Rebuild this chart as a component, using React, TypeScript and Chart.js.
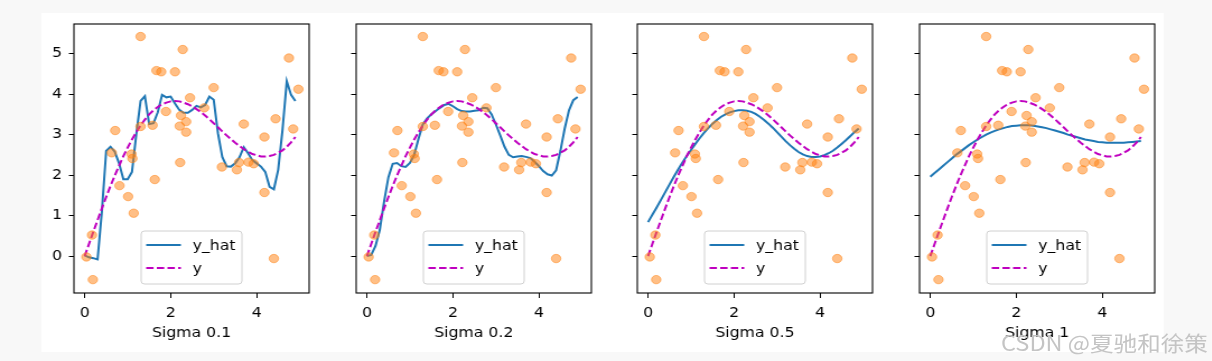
import React, { useEffect, useRef } from "react";
import { Chart, registerables } from "chart.js";

Chart.register(...registerables);

// ---------------- data ----------------
const xTest = [
  0, 0.1, 0.2, 0.3, 0.4, 0.5, 0.6, 0.7, 0.8, 0.9,
  1.0, 1.1, 1.2, 1.3, 1.4, 1.5, 1.6, 1.7, 1.8, 1.9,
  2.0, 2.1, 2.2, 2.3, 2.4, 2.5, 2.6, 2.7, 2.8, 2.9,
  3.0, 3.1, 3.2, 3.3, 3.4, 3.5, 3.6, 3.7, 3.8, 3.9,
  4.0, 4.1, 4.2, 4.3, 4.4, 4.5, 4.6, 4.7, 4.8, 4.9,
];

const yTruth = [
  0.0, 0.3, 0.6, 0.89, 1.18, 1.46, 1.73, 1.99, 2.23, 2.47,
  2.68, 2.88, 3.06, 3.23, 3.37, 3.5, 3.6, 3.68, 3.75, 3.79,
  3.82, 3.83, 3.82, 3.79, 3.75, 3.7, 3.63, 3.56, 3.47, 3.38,
  3.28, 3.18, 3.08, 2.98, 2.89, 2.8, 2.72, 2.64, 2.58, 2.52,
  2.49, 2.46, 2.46, 2.47, 2.5, 2.55, 2.61, 2.7, 2.81, 2.94,
];

const yHatSigma01 = [
  0.02, -0.03, -0.05, -0.08, 1.1, 2.6, 2.7, 2.58, 2.29, 1.9,
  1.9, 2.08, 3.0, 3.83, 3.95, 3.26, 3.28, 3.55, 3.98, 3.92,
  3.94, 3.77, 3.61, 3.54, 3.54, 3.61, 3.71, 3.67, 3.73, 3.94,
  3.86, 3.03, 2.45, 2.22, 2.21, 2.29, 2.44, 2.69, 2.54, 2.37,
  2.29, 2.21, 2.08, 1.71, 1.65, 2.13, 3.11, 4.32, 3.98, 3.83,
];

const yHatSigma02 = [
  0.0, 0.03, 0.25, 0.65, 1.35, 1.95, 2.28, 2.3, 2.22, 2.2,
  2.3, 2.5, 2.9, 3.25, 3.4, 3.5, 3.58, 3.66, 3.73, 3.76,
  3.7, 3.63, 3.58, 3.57, 3.57, 3.59, 3.6, 3.66, 3.65, 3.5,
  3.25, 2.98, 2.7, 2.5, 2.44, 2.46, 2.47, 2.45, 2.42, 2.33,
  2.22, 2.1, 2.02, 1.99, 2.12, 2.6, 3.15, 3.6, 3.85, 3.93,
];

const yHatSigma05 = [
  0.84, 1.02, 1.2, 1.39, 1.58, 1.77, 1.96, 2.14, 2.31, 2.47,
  2.62, 2.77, 2.91, 3.04, 3.16, 3.27, 3.36, 3.44, 3.5, 3.55,
  3.58, 3.6, 3.6, 3.59, 3.56, 3.51, 3.44, 3.36, 3.27, 3.17,
  3.06, 2.95, 2.84, 2.74, 2.65, 2.57, 2.51, 2.47, 2.45, 2.45,
  2.46, 2.49, 2.54, 2.6, 2.68, 2.77, 2.86, 2.96, 3.06, 3.15,
];

const yHatSigma1 = [
  1.96, 2.05, 2.14, 2.23, 2.32, 2.41, 2.5, 2.58, 2.66, 2.74,
  2.81, 2.88, 2.94, 3.0, 3.05, 3.09, 3.13, 3.16, 3.19, 3.21,
  3.22, 3.23, 3.23, 3.23, 3.22, 3.2, 3.18, 3.16, 3.13, 3.1,
  3.07, 3.04, 3.0, 2.97, 2.94, 2.91, 2.88, 2.86, 2.84, 2.82,
  2.81, 2.8, 2.8, 2.8, 2.8, 2.8, 2.81, 2.82, 2.83, 2.84,
];

const xTrain = [
  0.04, 0.17, 0.19, 0.63, 0.71, 0.81, 1.01, 1.09, 1.11, 1.14,
  1.3, 1.3, 1.58, 1.63, 1.67, 1.78, 1.89, 2.1, 2.22, 2.21,
  2.24, 2.28, 2.36, 2.36, 2.45, 2.78, 3.0, 3.19, 3.54, 3.59,
  3.7, 3.81, 3.93, 4.18, 4.18, 4.4, 4.44, 4.75, 4.85, 4.97,
];

const yTrain = [
  -0.02, 0.52, -0.58, 2.55, 3.1, 1.74, 1.47, 2.52, 2.41, 1.06,
  3.2, 5.42, 3.23, 1.89, 4.58, 4.55, 3.57, 4.55, 2.31, 3.21,
  3.47, 5.1, 3.32, 3.06, 3.91, 3.66, 4.16, 2.2, 2.13, 2.31,
  3.26, 2.32, 2.28, 2.94, 1.57, -0.06, 3.39, 4.89, 3.14, 4.12,
];

const panelTitles = ["Sigma 0.1", "Sigma 0.2", "Sigma 0.5", "Sigma 1"];
const panelYHat = [yHatSigma01, yHatSigma02, yHatSigma05, yHatSigma1];
const seriesLabels = ["y_hat", "y"];
const xTicks = [0, 2, 4];
const yTicks = [0, 1, 2, 3, 4, 5];
const watermark = "CSDN @夏驰和徐策";

// ---------------- layout / style ----------------
const S = 1.12; // horizontal stretch of the reference image
const FIG_W = 1212;
const FIG_H = 361;
const AREA_LEFT = [74, 356, 637, 919]; // screen px
const AREA_W = 210; // unstretched px
const AREA_TOP = 24;
const AREA_H = 269;
const Y_AXIS_W = 36;
const X_AXIS_H = 55;
const PAD_T = 8;
const PAD_R = 7;
const CANVAS_W = Y_AXIS_W + AREA_W + PAD_R;
const CANVAS_H = PAD_T + AREA_H + X_AXIS_H;
const X_MIN = -0.25;
const X_MAX = 5.22;
const Y_MIN = -0.91;
const Y_MAX = 5.73;
const FONT = '"DejaVu Sans", sans-serif';

const C_YHAT = "#1f77b4";
const C_Y = "#bf00bf";
const C_PTS = "rgba(255,127,14,0.5)";

const framePlugin = {
  id: "frame",
  afterDatasetsDraw(chart: any) {
    const { ctx, chartArea: a } = chart;
    ctx.save();
    ctx.strokeStyle = "#000";
    ctx.lineWidth = 1.1;
    ctx.strokeRect(a.left, a.top, a.right - a.left, a.bottom - a.top);
    ctx.restore();
  },
};

const innerLegendPlugin = {
  id: "innerLegend",
  afterDraw(chart: any) {
    const { ctx, chartArea: a } = chart;
    const items = chart.data.datasets.filter((d: any) => d.inLegend);
    const boxW = 90;
    const boxH = 53;
    const x0 = (a.left + a.right) / 2 - boxW / 2;
    const y0 = a.bottom - 9 - boxH;
    ctx.save();
    const r = 3;
    ctx.beginPath();
    ctx.moveTo(x0 + r, y0);
    ctx.lineTo(x0 + boxW - r, y0);
    ctx.quadraticCurveTo(x0 + boxW, y0, x0 + boxW, y0 + r);
    ctx.lineTo(x0 + boxW, y0 + boxH - r);
    ctx.quadraticCurveTo(x0 + boxW, y0 + boxH, x0 + boxW - r, y0 + boxH);
    ctx.lineTo(x0 + r, y0 + boxH);
    ctx.quadraticCurveTo(x0, y0 + boxH, x0, y0 + boxH - r);
    ctx.lineTo(x0, y0 + r);
    ctx.quadraticCurveTo(x0, y0, x0 + r, y0);
    ctx.closePath();
    ctx.fillStyle = "rgba(255,255,255,0.8)";
    ctx.fill();
    ctx.strokeStyle = "#d0d0d0";
    ctx.lineWidth = 1;
    ctx.stroke();
    items.forEach((d: any, k: number) => {
      const cy = y0 + 14 + k * 23;
      ctx.strokeStyle = d.borderColor;
      ctx.lineWidth = d.borderWidth;
      ctx.setLineDash(d.borderDash || []);
      ctx.beginPath();
      ctx.moveTo(x0 + 4.5, cy);
      ctx.lineTo(x0 + 35.5, cy);
      ctx.stroke();
      ctx.setLineDash([]);
      ctx.fillStyle = "#000";
      ctx.font = `14px ${FONT}`;
      ctx.textBaseline = "middle";
      ctx.textAlign = "left";
      ctx.fillText(d.label, x0 + 46, cy + 1);
    });
    ctx.restore();
  },
};

function Panel({ index }: { index: number }) {
  const ref = useRef<HTMLCanvasElement | null>(null);
  useEffect(() => {
    if (!ref.current) return;
    const yHat = panelYHat[index];
    const chart = new Chart(ref.current, {
      type: "scatter",
      data: {
        datasets: [
          {
            label: "train",
            data: xTrain.map((x, i) => ({ x, y: yTrain[i] })),
            showLine: false,
            pointRadius: 4.2,
            pointBackgroundColor: C_PTS,
            pointBorderColor: C_PTS,
            pointBorderWidth: 1,
            order: 0,
          } as any,
          {
            label: seriesLabels[0],
            data: xTest.map((x, i) => ({ x, y: yHat[i] })),
            showLine: true,
            borderColor: C_YHAT,
            borderWidth: 2,
            pointRadius: 0,
            tension: 0,
            order: 2,
            inLegend: true,
          } as any,
          {
            label: seriesLabels[1],
            data: xTest.map((x, i) => ({ x, y: yTruth[i] })),
            showLine: true,
            borderColor: C_Y,
            borderWidth: 2,
            borderDash: [6.6, 2.9],
            pointRadius: 0,
            tension: 0,
            order: 1,
            inLegend: true,
          } as any,
        ],
      },
      options: {
        responsive: false,
        animation: false,
        devicePixelRatio: 1,
        events: [],
        layout: { padding: { top: PAD_T, right: PAD_R, left: 0, bottom: 0 } },
        plugins: {
          legend: { display: false },
          tooltip: { enabled: false },
        },
        scales: {
          x: {
            type: "linear",
            position: "bottom",
            min: X_MIN,
            max: X_MAX,
            afterBuildTicks: (s: any) => {
              s.ticks = xTicks.map((v) => ({ value: v }));
            },
            afterFit: (s: any) => {
              s.height = X_AXIS_H;
              s.paddingLeft = 0;
              s.paddingRight = 0;
              s.paddingTop = 0;
              s.paddingBottom = 0;
            },
            grid: {
              display: true,
              drawOnChartArea: false,
              drawTicks: true,
              tickLength: 5,
              tickColor: "#000",
              tickWidth: 1,
            },
            border: { display: false },
            ticks: {
              color: "#000",
              font: { size: 14, family: FONT },
              padding: 6.5,
              maxRotation: 0,
              autoSkip: false,
              callback: (v: any) => String(v),
            },
            title: {
              display: true,
              text: panelTitles[index],
              color: "#000",
              font: { size: 14, family: FONT },
              padding: { top: 0, bottom: 6 },
            },
          },
          y: {
            type: "linear",
            min: Y_MIN,
            max: Y_MAX,
            afterBuildTicks: (s: any) => {
              s.ticks = yTicks.map((v) => ({ value: v }));
            },
            afterFit: (s: any) => {
              s.width = Y_AXIS_W;
              s.paddingLeft = 0;
              s.paddingRight = 0;
              s.paddingTop = 0;
              s.paddingBottom = 0;
            },
            grid: {
              display: true,
              drawOnChartArea: false,
              drawTicks: true,
              tickLength: 4.5,
              tickColor: "#000",
              tickWidth: 1,
            },
            border: { display: false },
            ticks: {
              display: index === 0,
              color: "#000",
              font: { size: 14, family: FONT },
              padding: 6,
              autoSkip: false,
              callback: (v: any) => String(v),
            },
          },
        },
      },
      plugins: [framePlugin, innerLegendPlugin],
    } as any);
    return () => chart.destroy();
  }, [index]);

  const left = AREA_LEFT[index] / S - Y_AXIS_W;
  return (
    <canvas
      ref={ref}
      width={CANVAS_W}
      height={CANVAS_H}
      style={{
        position: "absolute",
        left: `${left}px`,
        top: `${AREA_TOP - PAD_T}px`,
        width: `${CANVAS_W}px`,
        height: `${CANVAS_H}px`,
      }}
    />
  );
}

export default function App() {
  useEffect(() => {
    document.body.style.margin = "0";
    document.body.style.overflow = "hidden";
  }, []);
  return (
    <div
      style={{
        position: "absolute",
        left: 0,
        top: 0,
        width: `${FIG_W / S}px`,
        height: `${FIG_H}px`,
        background: "#f8f8f8",
        transform: `scaleX(${S})`,
        transformOrigin: "0 0",
        overflow: "hidden",
      }}
    >
      <div
        style={{
          position: "absolute",
          left: `${41 / S}px`,
          top: "13px",
          width: `${(1164 - 41) / S}px`,
          height: "339px",
          background: "#ffffff",
        }}
      />
      {panelTitles.map((_, i) => (
        <Panel key={i} index={i} />
      ))}
      <div
        style={{
          position: "absolute",
          left: `${1001 / S}px`,
          top: "332px",
          fontFamily: '"Noto Sans CJK SC", sans-serif',
          fontSize: "21px",
          lineHeight: "21px",
          color: "#c4c4c4",
          whiteSpace: "nowrap",
        }}
      >
        {watermark}
      </div>
    </div>
  );
}
